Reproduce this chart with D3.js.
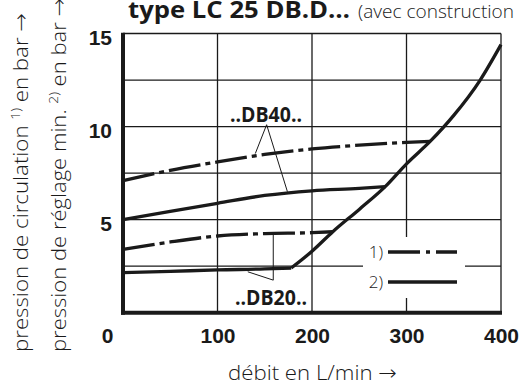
<!DOCTYPE html>
<html>
<head>
<meta charset="utf-8">
<script src="https://cdn.jsdelivr.net/npm/d3@7"></script>
<style>
  body { margin: 0; background: #fff; }
  svg { display: block; font-family: "Open Sans", sans-serif; }
  .tick text { font-weight: bold; font-size: 21px; fill: #1a1a1a; }
  .light { font-weight: 300; }
  .arrow { font-family: "DejaVu Sans", sans-serif; font-weight: 200; }
</style>
</head>
<body>
<svg width="522" height="390"></svg>
<script>
// **** data ****
var xTicks = [0, 100, 200, 300, 400];
var yTicks = [5, 10, 15];
var gridX = [100, 200, 300, 400];
var gridY = [2.5, 5, 7.5, 10, 12.5, 15];

// 1) pression de circulation, 2) pression de réglage min.
var db40Circ = [[0, 7.1], [50, 7.65], [100, 8.1], [150, 8.5], [200, 8.8], [250, 9.0], [300, 9.15], [325, 9.2]];
var db40Set = [[0, 5.0], [50, 5.45], [100, 5.88], [150, 6.3], [200, 6.55], [250, 6.68], [278, 6.78]];
var db20Circ = [[0, 3.4], [50, 3.8], [100, 4.12], [150, 4.25], [200, 4.3], [222, 4.35]];
var db20Set = [[0, 2.15], [50, 2.22], [100, 2.3], [150, 2.35], [178, 2.4]];
var limitCurve = [[178, 2.4], [200, 3.3], [222, 4.35], [250, 5.55], [278, 6.8], [300, 8.0], [325, 9.2], [350, 10.6], [378, 12.5], [400, 14.4]];

// **** scales ****
var xScale = d3.scaleLinear().domain([0, 400]).range([123, 501]);
var yScale = d3.scaleLinear().domain([0, 15]).range([312.7, 33.5]);

var svg = d3.select('svg');
var ink = '#1a1a1a';

// grid
svg.append('g').selectAll('line').data(gridX).enter().append('line')
    .attr('x1', function(d) { return xScale(d); })
    .attr('x2', function(d) { return xScale(d); })
    .attr('y1', yScale(0)).attr('y2', yScale(15))
    .attr('stroke', ink).attr('stroke-width', 1.3);

svg.append('g').selectAll('line').data(gridY).enter().append('line')
    .attr('x1', xScale(0)).attr('x2', xScale(400))
    .attr('y1', function(d) { return yScale(d); })
    .attr('y2', function(d) { return yScale(d); })
    .attr('stroke', ink).attr('stroke-width', 1.3);

// white box behind the legend
svg.append('rect')
    .attr('x', 363).attr('y', 237).attr('width', 102).attr('height', 61)
    .attr('fill', '#fff');

// thick axis lines
svg.append('line')
    .attr('x1', xScale(0)).attr('x2', xScale(0))
    .attr('y1', yScale(15) - 0.7).attr('y2', yScale(0) + 2)
    .attr('stroke', ink).attr('stroke-width', 4);
svg.append('line')
    .attr('x1', xScale(0) - 2).attr('x2', xScale(400) + 1)
    .attr('y1', yScale(0)).attr('y2', yScale(0))
    .attr('stroke', ink).attr('stroke-width', 4);

// tick labels
var xAxis = svg.append('g')
    .attr('transform', 'translate(0,' + yScale(0) + ')')
    .call(d3.axisBottom(xScale).tickValues(xTicks).tickSize(0).tickPadding(15));
xAxis.select('.domain').remove();
xAxis.selectAll('.tick text')
    .attr('dx', function(d) { return d === 0 ? -16 : 0; });

var yAxis = svg.append('g')
    .attr('transform', 'translate(' + xScale(0) + ',0)')
    .call(d3.axisLeft(yScale).tickValues(yTicks).tickSize(0).tickPadding(11));
yAxis.select('.domain').remove();
yAxis.selectAll('.tick text').attr('dy', '0.5em');

// curves
var line = d3.line()
    .x(function(d) { return xScale(d[0]); })
    .y(function(d) { return yScale(d[1]); })
    .curve(d3.curveMonotoneX);

var dashDot = '32,5,5,5';
var series = [
    { data: db40Circ, dash: dashDot },
    { data: db40Set, dash: null },
    { data: db20Circ, dash: dashDot },
    { data: db20Set, dash: null },
    { data: limitCurve, dash: null }
];

svg.append('g').selectAll('path').data(series).enter().append('path')
    .attr('d', function(d) { return line(d.data); })
    .attr('fill', 'none')
    .attr('stroke', ink)
    .attr('stroke-width', 3.3)
    .attr('stroke-dasharray', function(d) { return d.dash; });

// annotations
var leaders = [
    [[152, 10.1], [140, 8.55]],
    [[152, 10.1], [174, 6.5]],
    [[159, 1.75], [159, 4.27]],
    [[159, 1.75], [132, 2.2]]
];
svg.append('g').selectAll('line').data(leaders).enter().append('line')
    .attr('x1', function(d) { return xScale(d[0][0]); })
    .attr('y1', function(d) { return yScale(d[0][1]); })
    .attr('x2', function(d) { return xScale(d[1][0]); })
    .attr('y2', function(d) { return yScale(d[1][1]); })
    .attr('stroke', ink).attr('stroke-width', 1);

svg.append('text')
    .attr('x', 266).attr('y', 122)
    .attr('text-anchor', 'middle')
    .attr('font-size', 21).attr('font-weight', 'bold').attr('fill', ink)
    .attr('textLength', 72).attr('lengthAdjust', 'spacingAndGlyphs')
    .text('..DB40..');

svg.append('text')
    .attr('x', 271).attr('y', 305)
    .attr('text-anchor', 'middle')
    .attr('font-size', 21).attr('font-weight', 'bold').attr('fill', ink)
    .attr('textLength', 72).attr('lengthAdjust', 'spacingAndGlyphs')
    .text('..DB20..');

// legend
var legend = [
    { label: '1)', dash: '32,6,4,6', y: 252 },
    { label: '2)', dash: null, y: 282 }
];
var lg = svg.append('g').selectAll('g').data(legend).enter().append('g');
lg.append('line')
    .attr('x1', 388).attr('x2', 457)
    .attr('y1', function(d) { return d.y; })
    .attr('y2', function(d) { return d.y; })
    .attr('stroke', ink).attr('stroke-width', 3.5)
    .attr('stroke-dasharray', function(d) { return d.dash; });
lg.append('text')
    .attr('class', 'light')
    .attr('x', 383)
    .attr('y', function(d) { return d.y; })
    .attr('dy', '0.35em')
    .attr('text-anchor', 'end')
    .attr('font-size', 17).attr('fill', ink)
    .text(function(d) { return d.label; });

// title
svg.append('text')
    .attr('x', 128).attr('y', 18)
    .attr('font-size', 23).attr('font-weight', 'bold').attr('fill', ink)
    .attr('textLength', 222).attr('lengthAdjust', 'spacingAndGlyphs')
    .text('type LC 25 DB.D…');
svg.append('text')
    .attr('class', 'light')
    .attr('x', 358).attr('y', 18)
    .attr('font-size', 19).attr('fill', ink)
    .attr('textLength', 156).attr('lengthAdjust', 'spacingAndGlyphs')
    .text('(avec construction');

// x axis label
var xt = svg.append('text')
    .attr('class', 'light')
    .attr('x', 228).attr('y', 380)
    .attr('font-size', 21).attr('fill', ink)
    .attr('textLength', 169).attr('lengthAdjust', 'spacingAndGlyphs');
xt.append('tspan').text('débit en L/min ');
xt.append('tspan').attr('class', 'arrow').text('→');

// y axis labels (two rotated lines)
function yTitle(x, len, main, sup) {
    var t = svg.append('text')
        .attr('class', 'light')
        .attr('transform', 'translate(' + x + ',352) rotate(-90)')
        .attr('font-size', 21).attr('fill', ink)
        .attr('textLength', len).attr('lengthAdjust', 'spacingAndGlyphs');
    t.append('tspan').text(main + ' ');
    t.append('tspan').attr('font-size', 13).attr('dy', -8).text(sup);
    t.append('tspan').attr('dy', 8).text(' en bar ');
    t.append('tspan').attr('class', 'arrow').text('→');
}
yTitle(28, 339, 'pression de circulation', '1)');
yTitle(66, 354, 'pression de réglage min.', '2)');
</script>
</body>
</html>
